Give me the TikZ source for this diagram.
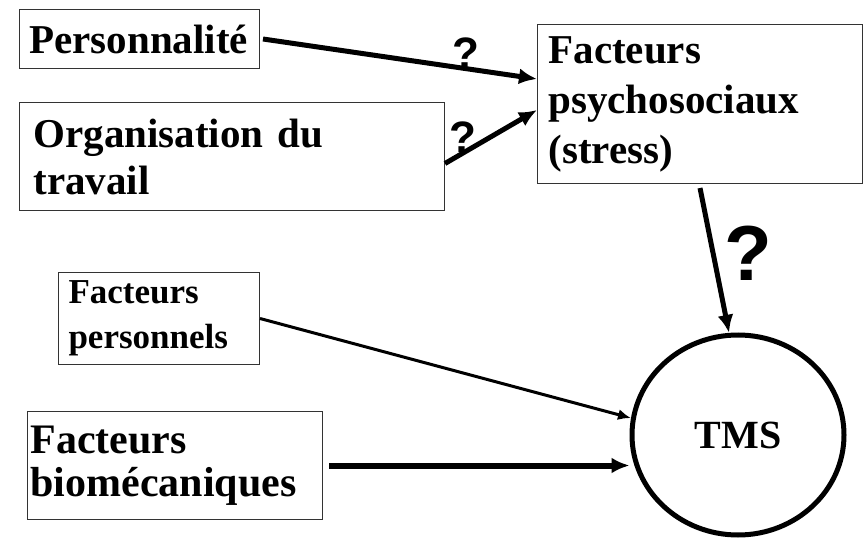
\documentclass[tikz,border=0pt]{standalone}
\usepackage{fontspec}
\setmainfont{Liberation Serif}
\newfontfamily\qfont{Liberation Sans}
\usetikzlibrary{arrows.meta,shapes.geometric}

\begin{document}
\begin{tikzpicture}[x=1pt, y=-1pt,
    box/.style={draw=black!80, line width=1pt, anchor=north west, align=left, inner ysep=0pt},
    big/.style={font=\bfseries\fontsize{41}{#1}\selectfont},
    link/.style={line width=#1, -{Latex[length=18pt,width=16pt]}},
    qmark/.style={font=\qfont\bfseries\fontsize{#1}{#1}\selectfont, inner sep=0pt}]
    \useasboundingbox (0,0) rectangle (865,540);

    \node[box, big=48, minimum height=59pt, inner xsep=10pt, text width=220pt] (perso) at (19,9) {Personnalité};
    \node[box, big=47, minimum height=108pt, inner xsep=14pt, text width=397pt] (orga) at (19,102) {Organisation du\\travail};
    \node[box, big=50, minimum height=159pt, inner xsep=11pt, text width=303pt] (psycho) at (537,24) {Facteurs\\psychosociaux\\(stress)};
    \node[box, font=\bfseries\fontsize{35}{45}\selectfont, minimum height=92pt, inner xsep=10pt, text width=181pt] (fpers) at (58,272) {Facteurs\\personnels};
    \node[box, font=\bfseries\fontsize{42}{43}\selectfont, minimum height=108pt, inner xsep=3pt, text width=289pt] (biomeca) at (27,411) {Facteurs\\biomécaniques};
    \node[draw, ellipse, line width=5pt, minimum width=212pt, minimum height=200pt, font=\bfseries\fontsize{40}{40}\selectfont] (tms) at (738,435) {TMS};

    \draw[link=5pt] ([xshift=3pt]perso.east) -- ([yshift=25pt]psycho.west) node[qmark=44, pos=0.74, anchor=base] (q1) {?};
    \draw[link=5pt] ([yshift=-7pt]orga.east) -- ([yshift=-6pt]psycho.west) node[qmark=44, pos=0.2, anchor=base] (q2) {?};
    \draw[link=5pt] ([yshift=-4pt]psycho.south) -- (tms.95) node[qmark=78, pos=0.45, right=9pt] (q3) {?};
    \draw[line width=3pt, -{Latex[length=13pt,width=11pt]}] (fpers.east) -- (tms.171);
    \draw[link=6pt] ([xshift=6pt]biomeca.east) -- (tms.west |- biomeca.east);
\end{tikzpicture}
\end{document}
